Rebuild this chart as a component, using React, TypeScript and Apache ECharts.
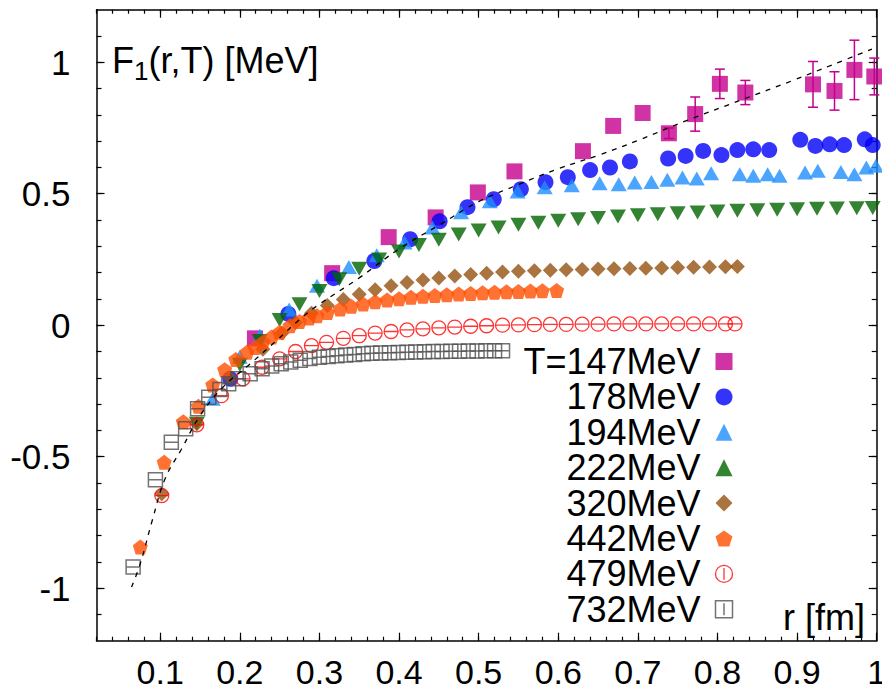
import React, { useEffect, useRef } from 'react';
import * as echarts from 'echarts';

const FONT = '"Liberation Sans", Arial, Helvetica, sans-serif';

const seriesNames = ['T=147MeV', '178MeV', '194MeV', '222MeV', '320MeV', '442MeV', '479MeV', '732MeV'];

// T = 147 MeV (with error bars)
const r147 = [0.219, 0.316, 0.387, 0.446, 0.499, 0.545, 0.631, 0.669, 0.706, 0.739, 0.772, 0.803, 0.835, 0.920, 0.947, 0.972, 0.997];
const f147 = [-0.05, 0.198, 0.335, 0.41, 0.505, 0.585, 0.662, 0.758, 0.807, 0.73, 0.803, 0.918, 0.885, 0.916, 0.891, 0.971, 0.946];
const e147 = [0, 0, 0, 0, 0, 0, 0, 0, 0, 0.02, 0.065, 0.056, 0.046, 0.087, 0.073, 0.113, 0.07];

// T = 178 MeV
const r178 = [0.188, 0.261, 0.318, 0.369, 0.414, 0.451, 0.486, 0.519, 0.553, 0.584, 0.612, 0.640, 0.665, 0.690, 0.738, 0.760, 0.782, 0.805, 0.825, 0.845, 0.865, 0.904, 0.923, 0.941, 0.959, 0.985, 0.995];
const f178 = [-0.204, 0.043, 0.179, 0.244, 0.327, 0.395, 0.449, 0.479, 0.517, 0.544, 0.563, 0.59, 0.600, 0.623, 0.634, 0.644, 0.663, 0.647, 0.666, 0.669, 0.666, 0.705, 0.682, 0.688, 0.685, 0.707, 0.685];

// T = 194 MeV
const r194 = [0.166, 0.2, 0.225, 0.262, 0.297, 0.337, 0.372, 0.407, 0.442, 0.478, 0.514, 0.549, 0.583, 0.617, 0.652, 0.676, 0.696, 0.717, 0.737, 0.756, 0.774, 0.792, 0.828, 0.845, 0.863, 0.878, 0.910, 0.926, 0.955, 0.972, 0.987, 0.999];
const f194 = [-0.28, -0.12, -0.04, 0.06, 0.15, 0.221, 0.266, 0.315, 0.372, 0.43, 0.471, 0.509, 0.525, 0.532, 0.54, 0.536, 0.543, 0.545, 0.553, 0.562, 0.558, 0.578, 0.574, 0.568, 0.574, 0.568, 0.581, 0.587, 0.583, 0.574, 0.6, 0.606];

// T = 222 MeV
const r222 = [0.146, 0.2, 0.225, 0.25, 0.275, 0.3, 0.325, 0.35, 0.375, 0.4, 0.425, 0.45, 0.475, 0.5, 0.525, 0.55, 0.575, 0.6, 0.625, 0.65, 0.675, 0.7, 0.725, 0.75, 0.775, 0.8, 0.825, 0.85, 0.875, 0.9, 0.925, 0.95, 0.975, 0.995];
const f222 = [-0.375, -0.15, -0.06, 0.02, 0.08, 0.13, 0.175, 0.215, 0.25, 0.28, 0.305, 0.325, 0.345, 0.36, 0.372, 0.382, 0.39, 0.397, 0.403, 0.408, 0.413, 0.418, 0.422, 0.426, 0.429, 0.432, 0.435, 0.437, 0.439, 0.441, 0.443, 0.444, 0.445, 0.446];

// T = 320 MeV
const r320 = [0.102, 0.146, 0.188, 0.229, 0.253, 0.27, 0.29, 0.31, 0.33, 0.35, 0.37, 0.39, 0.41, 0.43, 0.45, 0.47, 0.49, 0.51, 0.53, 0.55, 0.57, 0.59, 0.61, 0.63, 0.65, 0.67, 0.69, 0.71, 0.73, 0.75, 0.77, 0.79, 0.81, 0.825];
const f320 = [-0.641, -0.375, -0.2, -0.091, -0.03, 0.01, 0.045, 0.075, 0.098, 0.118, 0.135, 0.15, 0.162, 0.172, 0.18, 0.187, 0.193, 0.198, 0.202, 0.205, 0.207, 0.209, 0.211, 0.212, 0.214, 0.215, 0.216, 0.217, 0.218, 0.219, 0.22, 0.221, 0.222, 0.223];

// T = 442 MeV
const r442 = [0.075, 0.105, 0.129, 0.148, 0.166, 0.181, 0.195, 0.209, 0.219, 0.229, 0.24, 0.25, 0.263, 0.275, 0.287, 0.297, 0.31, 0.326, 0.34, 0.355, 0.37, 0.385, 0.4, 0.415, 0.43, 0.445, 0.46, 0.475, 0.49, 0.505, 0.52, 0.535, 0.55, 0.565, 0.58, 0.598];
const f442 = [-0.844, -0.521, -0.367, -0.308, -0.227, -0.169, -0.13, -0.103, -0.085, -0.065, -0.045, -0.027, -0.002, 0.014, 0.027, 0.036, 0.048, 0.062, 0.072, 0.081, 0.089, 0.096, 0.101, 0.106, 0.11, 0.113, 0.116, 0.119, 0.121, 0.123, 0.125, 0.127, 0.128, 0.13, 0.131, 0.132];

// T = 479 MeV
const r479 = [0.102, 0.146, 0.177, 0.204, 0.228, 0.25, 0.27, 0.29, 0.309, 0.33, 0.35, 0.37, 0.39, 0.41, 0.43, 0.45, 0.47, 0.49, 0.51, 0.53, 0.55, 0.57, 0.59, 0.61, 0.63, 0.65, 0.67, 0.69, 0.71, 0.73, 0.75, 0.77, 0.79, 0.81, 0.822];
const f479 = [-0.648, -0.379, -0.268, -0.204, -0.16, -0.128, -0.1, -0.078, -0.065, -0.05, -0.04, -0.03, -0.024, -0.018, -0.014, -0.01, -0.007, -0.004, -0.002, 0, 0.001, 0.002, 0.003, 0.003, 0.004, 0.004, 0.005, 0.005, 0.005, 0.005, 0.005, 0.005, 0.005, 0.005, 0.005];

// T = 732 MeV
const r732 = [0.066, 0.094, 0.114, 0.132, 0.147, 0.161, 0.175, 0.186, 0.198, 0.213, 0.228, 0.240, 0.252, 0.264, 0.276, 0.288, 0.300, 0.311, 0.322, 0.333, 0.344, 0.355, 0.366, 0.377, 0.388, 0.399, 0.41, 0.421, 0.432, 0.443, 0.454, 0.465, 0.476, 0.487, 0.498, 0.509, 0.52, 0.53];
const f732 = [-0.92, -0.588, -0.445, -0.394, -0.318, -0.274, -0.245, -0.223, -0.204, -0.185, -0.166, -0.155, -0.147, -0.14, -0.133, -0.127, -0.122, -0.119, -0.116, -0.113, -0.111, -0.109, -0.107, -0.106, -0.105, -0.104, -0.103, -0.102, -0.101, -0.1, -0.1, -0.099, -0.099, -0.098, -0.098, -0.097, -0.097, -0.097];

// dashed fit curve
const fitR = [0.064, 0.075, 0.09, 0.106, 0.127, 0.15, 0.179, 0.213, 0.246, 0.276, 0.3, 0.35, 0.4, 0.45, 0.5, 0.55, 0.6, 0.652, 0.702, 0.761, 0.831, 0.894, 0.944, 0.994];
const fitF = [-0.996, -0.907, -0.743, -0.585, -0.47, -0.344, -0.235, -0.147, -0.059, 0.024, 0.08, 0.18, 0.29, 0.38, 0.47, 0.535, 0.595, 0.648, 0.705, 0.778, 0.858, 0.93, 0.99, 1.05];

// axis ticks and labels
const xMajorTicks = [0.1, 0.2, 0.3, 0.4, 0.5, 0.6, 0.7, 0.8, 0.9, 1];
const yMajorTicks = [-1, -0.5, 0, 0.5, 1];
const xMinorTicks = Array.from({ length: 49 }, (_, i) => +(0.02 * (i + 1)).toFixed(2));
const yMinorTicks = Array.from({ length: 23 }, (_, i) => +(-1.1 + 0.1 * i).toFixed(1));

const colors = ['#C4008C', '#0000F8', '#1E8EFF', '#006400', '#94510F', '#FF4F00', '#FF0000', '#505050'];

const PENTAGON = 'path://M10,0 L19.51,6.91 L15.88,18.09 L4.12,18.09 L0.49,6.91 Z';
const CIRC_H = 'path://M0,10 A10,10 0 1,0 20,10 A10,10 0 1,0 0,10 Z M1,10 L19,10';
const CIRC_V = 'path://M0,10 A10,10 0 1,0 20,10 A10,10 0 1,0 0,10 Z M10,3 L10,17';
const SQ_H = 'path://M0,0 L20,0 L20,20 L0,20 Z M0,10 L20,10';
const SQ_V = 'path://M0,0 L20,0 L20,20 L0,20 Z M10,3 L10,17';

const zip = (a: number[], b: number[]) => a.map((v, i) => [v, b[i]]);

export default function App() {
  const ref = useRef<HTMLDivElement>(null);
  useEffect(() => {
    if (!ref.current) return;
    const chart = echarts.init(ref.current, undefined, { renderer: 'svg' });

    const X0 = 0.02, X1 = 1, Y0 = -1.2, Y1 = 1.2;
    const lineStyle = { color: '#000', width: 1.5 };
    const mkX = (pos: string, ticks: number[], len: number, labels: boolean, line: boolean) => ({
      type: 'value', position: pos, min: X0, max: X1, gridIndex: 0,
      axisLine: { show: line, onZero: false, lineStyle },
      splitLine: { show: false },
      axisTick: { show: true, inside: true, length: len, customValues: ticks, lineStyle: { color: '#000', width: 1.2 } },
      axisLabel: labels
        ? { show: true, customValues: xMajorTicks, fontSize: 34, lineHeight: 30, fontFamily: FONT, color: '#000', margin: 16 }
        : { show: false },
    });
    const mkY = (pos: string, ticks: number[], len: number, labels: boolean, line: boolean) => ({
      type: 'value', position: pos, min: Y0, max: Y1, gridIndex: 0,
      axisLine: { show: line, onZero: false, lineStyle },
      splitLine: { show: false },
      axisTick: { show: true, inside: true, length: len, customValues: ticks, lineStyle: { color: '#000', width: 1.2 } },
      axisLabel: labels
        ? { show: true, customValues: yMajorTicks, fontSize: 35, fontFamily: FONT, color: '#000', margin: 26 }
        : { show: false },
    });

    const scatter = (i: number, r: number[], f: number[], symbol: string, size: any, extra: any = {}) => ({
      type: 'scatter', name: seriesNames[i], data: zip(r, f), symbol, symbolSize: size,
      xAxisIndex: 0, yAxisIndex: 0,
      itemStyle: { color: colors[i] },
      ...extra,
    });

    const errData = r147.map((v, i) => [v, f147[i], e147[i]]).filter((d) => d[2] > 0);

    chart.setOption({
      animation: false,
      grid: { left: 96.5, right: 5.3, top: 9.7, bottom: 50.3, containLabel: false, outerBoundsMode: 'none' },
      title: {
        text: '{a|F}{s|1}{a|(r,T) [MeV]}', left: 112, top: 36, padding: 0,
        textStyle: {
          fontFamily: FONT, color: '#000', fontWeight: 'normal',
          rich: {
            a: { fontSize: 36, lineHeight: 48, fontFamily: FONT, color: '#000' },
            s: { fontSize: 26, lineHeight: 26, verticalAlign: 'bottom', fontFamily: FONT, color: '#000' },
          },
        },
      },
      legend: {
        orient: 'vertical', right: 142, top: 338.5, align: 'right',
        itemWidth: 17, itemHeight: 17, itemGap: -0.6, selectedMode: false,
        textStyle: { fontSize: 36, fontFamily: FONT, color: '#000', padding: [0, 10, 0, 0] },
        data: [
          { name: seriesNames[0], icon: 'rect' },
          { name: seriesNames[1], icon: 'circle' },
          { name: seriesNames[2] },
          { name: seriesNames[3] },
          { name: seriesNames[4], icon: 'diamond' },
          { name: seriesNames[5], icon: PENTAGON },
          { name: seriesNames[6], icon: CIRC_V, itemStyle: { color: 'none', borderColor: colors[6], borderWidth: 1.3 } },
          { name: seriesNames[7], icon: SQ_V, itemStyle: { color: 'none', borderColor: colors[7], borderWidth: 1.5 } },
        ],
      },
      graphic: [
        {
          type: 'text', x: 865, y: 617,
          style: { text: 'r [fm]', font: `36px ${FONT}`, fill: '#000', align: 'right', verticalAlign: 'middle' },
        },
      ],
      xAxis: [
        mkX('bottom', xMajorTicks, 8, true, true),
        mkX('bottom', xMinorTicks, 4, false, false),
        mkX('top', xMajorTicks, 8, false, true),
        mkX('top', xMinorTicks, 4, false, false),
      ],
      yAxis: [
        mkY('left', yMajorTicks, 8, true, true),
        mkY('left', yMinorTicks, 5, false, false),
        mkY('right', yMajorTicks, 8, false, true),
        mkY('right', yMinorTicks, 5, false, false),
      ],
      series: [
        scatter(0, r147, f147, 'rect', 16),
        {
          type: 'custom', name: 'err147', xAxisIndex: 0, yAxisIndex: 0, data: errData,
          encode: { x: 0, y: 1 },
          renderItem: (_p: any, api: any) => {
            const x = api.value(0), y = api.value(1), e = api.value(2);
            const a = api.coord([x, y + e]);
            const b = api.coord([x, y - e]);
            const st = { stroke: colors[0], lineWidth: 1.5 };
            const hw = 5;
            return {
              type: 'group',
              children: [
                { type: 'line', shape: { x1: a[0], y1: a[1], x2: b[0], y2: b[1] }, style: st },
                { type: 'line', shape: { x1: a[0] - hw, y1: a[1], x2: a[0] + hw, y2: a[1] }, style: st },
                { type: 'line', shape: { x1: b[0] - hw, y1: b[1], x2: b[0] + hw, y2: b[1] }, style: st },
              ],
            };
          },
        },
        scatter(1, r178, f178, 'circle', 16),
        scatter(2, r194, f194, 'triangle', [16, 14]),
        scatter(3, r222, f222, 'triangle', [16, 14], { symbolRotate: 180 }),
        scatter(4, r320, f320, 'diamond', [15, 15]),
        scatter(5, r442, f442, PENTAGON, [15, 15]),
        scatter(6, r479, f479, CIRC_H, [14, 14], { itemStyle: { color: 'rgba(0,0,0,0)', borderColor: colors[6], borderWidth: 1.3 } }),
        scatter(7, r732, f732, SQ_H, [14, 14], { itemStyle: { color: 'rgba(0,0,0,0)', borderColor: colors[7], borderWidth: 1.5 } }),
        {
          type: 'line', name: 'fit', data: zip(fitR, fitF), smooth: 0.4, symbol: 'none',
          xAxisIndex: 0, yAxisIndex: 0, z: 5,
          lineStyle: { color: '#000', width: 1.3, type: [5, 6] },
        },
      ],
    });
    return () => chart.dispose();
  }, []);
  return <div ref={ref} style={{ position: 'fixed', left: 0, top: 0, width: 882, height: 691, background: '#fff' }} />;
}
